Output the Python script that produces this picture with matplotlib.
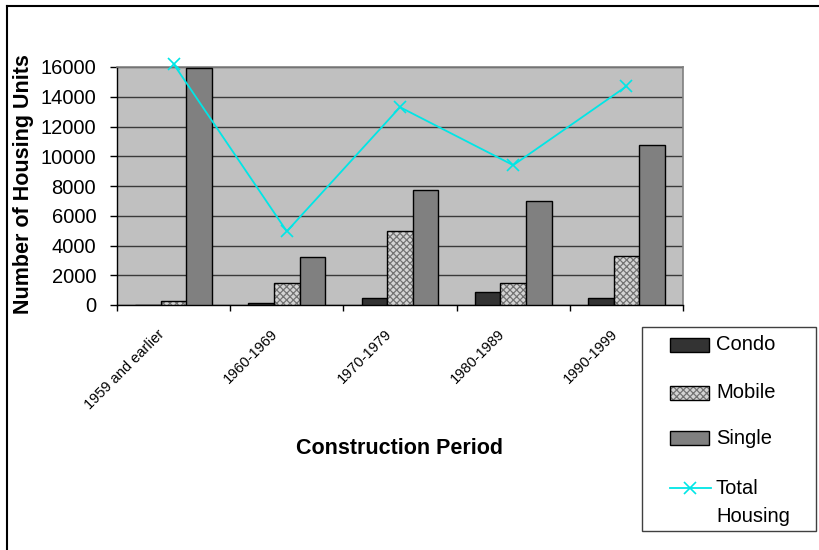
import matplotlib
matplotlib.use('Agg')
import matplotlib.pyplot as plt
import numpy as np
from matplotlib.patches import Rectangle
from matplotlib.lines import Line2D
from matplotlib.transforms import ScaledTranslation

plt.rcParams['font.family'] = ['Liberation Sans', 'DejaVu Sans']
plt.rcParams['hatch.linewidth'] = 0.9

# ---- data ----
periods = ["1959 and earlier", "1960-1969", "1970-1979", "1980-1989", "1990-1999"]
condo = [20, 150, 470, 880, 470]
mobile = [250, 1500, 4950, 1480, 3300]
single = [15900, 3250, 7700, 7000, 10750]
total = [16200, 4950, 13300, 9400, 14700]
yticks = [0, 2000, 4000, 6000, 8000, 10000, 12000, 14000, 16000]
legend_labels = ["Condo", "Mobile", "Single", "Total\nHousing"]

W, H = 819, 550
fig = plt.figure(figsize=(W / 100, H / 100), dpi=100)

def fx(px):
    return px / W

def fy(py):
    return 1 - py / H

ax = fig.add_axes([fx(117), fy(305), fx(683 - 117), (305 - 67) / H])
ax.set_facecolor('#c0c0c0')

x = np.arange(len(periods)) + 0.5
bw = 0.226
HATCH_FACE = '#d4d4d4'
HATCH_COL = '#737373'
HATCH = 'xxxxx'

ax.bar(x - bw, condo, bw, color='#333333', edgecolor='black', linewidth=1, zorder=3)
ax.bar(x, mobile, bw, color=HATCH_FACE, edgecolor=HATCH_COL, hatch=HATCH, linewidth=0, zorder=3)
ax.bar(x, mobile, bw, fill=False, edgecolor='black', linewidth=1, zorder=3)
ax.bar(x + bw, single, bw, color='#808080', edgecolor='black', linewidth=1, zorder=3)
ax.plot(x, total, color='#00e6e6', marker='x', ms=8, mew=1.2, lw=1.3,
        clip_on=False, zorder=5)

ax.set_xlim(0, len(periods))
ax.set_ylim(0, 16000)
ax.set_yticks(yticks)
ax.set_yticklabels([str(v) for v in yticks])
ax.yaxis.grid(True, color='#3a3a3a', lw=1)
ax.set_axisbelow(True)

ax.set_xticks(np.arange(len(periods) + 1))
ax.set_xticklabels([])
ax.set_xticks(x, minor=True)
ax.set_xticklabels(periods, minor=True, rotation=45, ha='right', va='top', fontsize=10.5)
ax.tick_params(axis='x', which='major', direction='out', length=4, width=1, color='black')
ax.tick_params(axis='x', which='minor', length=0, pad=16)
ax.tick_params(axis='y', direction='out', length=5, width=1, color='black',
               labelsize=14.5, pad=10)
for lab in ax.get_xticklabels(minor=True):
    lab.set_transform(lab.get_transform() + ScaledTranslation(-6 / 100, 0, fig.dpi_scale_trans))

for s in ['left', 'bottom']:
    ax.spines[s].set_color('black')
    ax.spines[s].set_linewidth(1)
for s in ['top', 'right']:
    ax.spines[s].set_color('#808080')
    ax.spines[s].set_linewidth(1.2)

fig.text(fx(24), fy(184), 'Number of Housing Units', rotation=90, ha='center',
         va='center', fontsize=15.5, fontweight='bold')
fig.text(fx(400), fy(448), 'Construction Period', ha='center', va='center',
         fontsize=15.5, fontweight='bold')

# outer frame (top and left edges visible)
fig.add_artist(Line2D([fx(7), 1], [fy(6), fy(6)], color='black', lw=1.5))
fig.add_artist(Line2D([fx(7), fx(7)], [0, fy(6)], color='black', lw=1.5))

# legend (manual)
fig.add_artist(Rectangle((fx(642), fy(531)), fx(816 - 642), (531 - 327) / H,
                         facecolor='white', edgecolor='#404040', lw=1))
patch_specs = [dict(facecolor='#333333'),
               dict(facecolor=HATCH_FACE, hatch=HATCH),
               dict(facecolor='#808080')]
ys = [345, 393, 438]
for spec, yy, lab in zip(patch_specs, ys, legend_labels[:3]):
    if 'hatch' in spec:
        fig.add_artist(Rectangle((fx(670), fy(yy + 7)), fx(39), 14 / H,
                                 facecolor=spec['facecolor'], edgecolor=HATCH_COL,
                                 hatch=spec['hatch'], lw=0))
        fig.add_artist(Rectangle((fx(670), fy(yy + 7)), fx(39), 14 / H,
                                 fill=False, edgecolor='black', lw=1))
    else:
        fig.add_artist(Rectangle((fx(670), fy(yy + 7)), fx(39), 14 / H,
                                 facecolor=spec['facecolor'], edgecolor='black', lw=1))
    fig.text(fx(716), fy(yy), lab, ha='left', va='center', fontsize=14.5)
fig.add_artist(Line2D([fx(670), fx(711)], [fy(488), fy(488)], color='#00e6e6', lw=1.3))
fig.add_artist(Line2D([fx(690)], [fy(488)], color='#00e6e6', marker='x', ms=8, mew=1.2))
fig.text(fx(716), fy(488), 'Total', ha='left', va='center', fontsize=14.5)
fig.text(fx(716), fy(517), 'Housing', ha='left', va='center', fontsize=14.5)

fig.savefig('out.png', dpi=100)
